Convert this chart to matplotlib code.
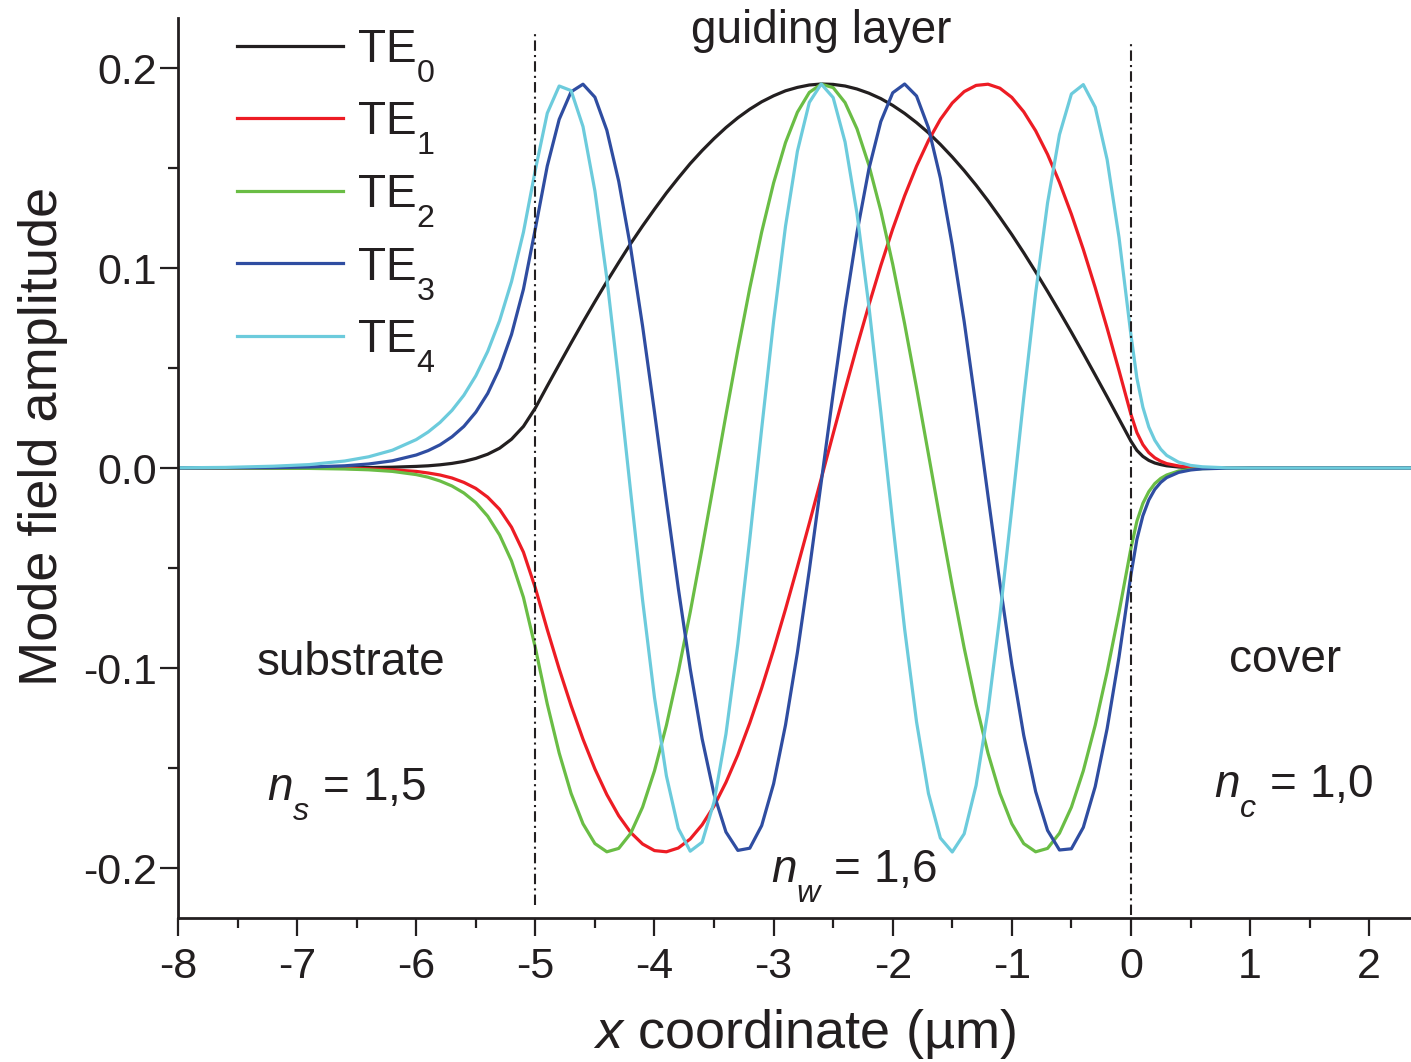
import matplotlib
matplotlib.use("Agg")
import matplotlib.pyplot as plt
from matplotlib.ticker import MultipleLocator, FormatStrFormatter

plt.rcParams["font.family"] = ["Liberation Sans", "DejaVu Sans"]
plt.rcParams["mathtext.fontset"] = "custom"
plt.rcParams["mathtext.rm"] = "Liberation Sans"
plt.rcParams["mathtext.it"] = "Liberation Sans:italic"
plt.rcParams["mathtext.bf"] = "Liberation Sans:bold"
plt.rcParams["axes.unicode_minus"] = False

# deeper subscripts, like the original figure
try:
    from matplotlib import _mathtext
    _mathtext.FontConstantsBase.sub1 = 0.8
    _mathtext.FontConstantsBase.sub2 = 0.9
except Exception:
    pass

INK = "#231f20"

# x positions (um): substrate tail, guiding layer (-5..0), cover tail
x_um = [-8.0, -7.6, -7.2, -6.9, -6.6, -6.4, -6.2, -6.0, -5.9, -5.8, -5.7, -5.6, -5.5, -5.4, -5.3, -5.2, -5.1,
        -5.0, -4.9, -4.8, -4.7, -4.6, -4.5, -4.4, -4.3, -4.2, -4.1,
        -4.0, -3.9, -3.8, -3.7, -3.6, -3.5, -3.4, -3.3, -3.2, -3.1,
        -3.0, -2.9, -2.8, -2.7, -2.6, -2.5, -2.4, -2.3, -2.2, -2.1,
        -2.0, -1.9, -1.8, -1.7, -1.6, -1.5, -1.4, -1.3, -1.2, -1.1,
        -1.0, -0.9, -0.8, -0.7, -0.6, -0.5, -0.4, -0.3, -0.2, -0.1,
        0.0,
        0.05, 0.1, 0.15, 0.2, 0.25, 0.3, 0.4, 0.5, 0.6, 0.8, 1.0, 1.5, 2.4]

te0 = [0.0, 0.0, 0.0, 0.0, 0.0001, 0.0002, 0.0004, 0.0008, 0.0011, 0.0016, 0.0023, 0.0033, 0.0048, 0.0069, 0.0099, 0.0144, 0.0208,
       0.0300, 0.0410, 0.0518, 0.0625, 0.0730, 0.0832, 0.0932, 0.1028, 0.1122, 0.1210,
       0.1294, 0.1375, 0.1450, 0.1522, 0.1587, 0.1647, 0.1702, 0.1751, 0.1794, 0.1831,
       0.1861, 0.1886, 0.1903, 0.1915, 0.1920, 0.1918, 0.1910, 0.1895, 0.1874, 0.1847,
       0.1813, 0.1773, 0.1727, 0.1676, 0.1618, 0.1555, 0.1487, 0.1414, 0.1336, 0.1253,
       0.1167, 0.1076, 0.0981, 0.0883, 0.0782, 0.0679, 0.0573, 0.0465, 0.0356, 0.0245,
       0.0134,
       0.0088, 0.0058, 0.0038, 0.0025, 0.0017, 0.0011, 0.0005, 0.0002, 0.0001, 0.0, 0.0, 0.0, 0.0]

te1 = [0.0, 0.0, 0.0, -0.0001, -0.0002, -0.0004, -0.0009, -0.0017, -0.0025, -0.0035, -0.0050, -0.0072, -0.0102, -0.0146, -0.0207, -0.0296, -0.0421,
       -0.0600, -0.0808, -0.1005, -0.1188, -0.1356, -0.1505, -0.1633, -0.1739, -0.1822, -0.1880,
       -0.1913, -0.1919, -0.1900, -0.1855, -0.1784, -0.1690, -0.1572, -0.1434, -0.1275, -0.1100,
       -0.0909, -0.0706, -0.0494, -0.0276, -0.0053, 0.0171, 0.0392, 0.0608, 0.0815, 0.1012,
       0.1195, 0.1361, 0.1509, 0.1637, 0.1743, 0.1825, 0.1882, 0.1913, 0.1919, 0.1899,
       0.1853, 0.1781, 0.1686, 0.1568, 0.1428, 0.1269, 0.1093, 0.0902, 0.0699, 0.0487,
       0.0268,
       0.0177, 0.0117, 0.0077, 0.0051, 0.0034, 0.0022, 0.0010, 0.0004, 0.0002, 0.0, 0.0, 0.0, 0.0]

te2 = [0.0, 0.0, -0.0001, -0.0002, -0.0005, -0.0009, -0.0017, -0.0033, -0.0046, -0.0065, -0.0090, -0.0125, -0.0173, -0.0241, -0.0335, -0.0465, -0.0647,
       -0.0899, -0.1180, -0.1425, -0.1627, -0.1779, -0.1878, -0.1919, -0.1902, -0.1827, -0.1696,
       -0.1514, -0.1287, -0.1019, -0.0721, -0.0401, -0.0069, 0.0265, 0.0591, 0.0899, 0.1180,
       0.1425, 0.1627, 0.1779, 0.1878, 0.1919, 0.1902, 0.1827, 0.1696, 0.1514, 0.1286,
       0.1019, 0.0721, 0.0401, 0.0069, -0.0265, -0.0591, -0.0900, -0.1181, -0.1426, -0.1627,
       -0.1779, -0.1878, -0.1919, -0.1902, -0.1826, -0.1696, -0.1514, -0.1286, -0.1019, -0.0721,
       -0.0401,
       -0.0266, -0.0177, -0.0118, -0.0078, -0.0052, -0.0035, -0.0015, -0.0007, -0.0003, -0.0001, 0.0, 0.0, 0.0]

te3 = [0.0, 0.0001, 0.0002, 0.0005, 0.0011, 0.0020, 0.0036, 0.0065, 0.0087, 0.0116, 0.0156, 0.0208, 0.0279, 0.0373, 0.0499, 0.0668, 0.0894,
       0.1197, 0.1510, 0.1743, 0.1881, 0.1919, 0.1854, 0.1689, 0.1433, 0.1101, 0.0710,
       0.0280, -0.0165, -0.0601, -0.1004, -0.1354, -0.1631, -0.1820, -0.1912, -0.1901, -0.1788,
       -0.1579, -0.1285, -0.0922, -0.0510, -0.0070, 0.0373, 0.0797, 0.1177, 0.1495, 0.1732,
       0.1876, 0.1920, 0.1860, 0.1701, 0.1450, 0.1113, 0.0732, 0.0304, -0.0140, -0.0577,
       -0.0983, -0.1337, -0.1618, -0.1812, -0.1910, -0.1904, -0.1797, -0.1593, -0.1303, -0.0944,
       -0.0533,
       -0.0357, -0.0239, -0.0160, -0.0107, -0.0072, -0.0048, -0.0022, -0.0010, -0.0004, -0.0001, 0.0, 0.0, 0.0]

te4 = [0.0001, 0.0003, 0.0009, 0.0017, 0.0035, 0.0056, 0.0089, 0.0142, 0.0180, 0.0228, 0.0288, 0.0364, 0.0461, 0.0583, 0.0737, 0.0932, 0.1179,
       0.1491, 0.1774, 0.1910, 0.1887, 0.1707, 0.1385, 0.0949, 0.0433, -0.0119, -0.0660,
       -0.1147, -0.1539, -0.1802, -0.1916, -0.1871, -0.1670, -0.1330, -0.0880, -0.0356, 0.0197,
       0.0733, 0.1209, 0.1584, 0.1828, 0.1920, 0.1852, 0.1630, 0.1273, 0.0809, 0.0279,
       -0.0274, -0.0805, -0.1269, -0.1627, -0.1850, -0.1920, -0.1829, -0.1587, -0.1213, -0.0738,
       -0.0202, 0.0351, 0.0875, 0.1326, 0.1667, 0.1870, 0.1917, 0.1804, 0.1542, 0.1152,
       0.0665,
       0.0449, 0.0304, 0.0205, 0.0139, 0.0094, 0.0063, 0.0029, 0.0013, 0.0006, 0.0001, 0.0, 0.0, 0.0]

modes = [te0, te1, te2, te3, te4]
mode_labels = ["TE$_0$", "TE$_1$", "TE$_2$", "TE$_3$", "TE$_4$"]
mode_colors = ["#231f20", "#ed1c24", "#6abd45", "#2f4da1", "#6ccbdc"]

# layer interfaces (um) and the extent of the dash-dot markers
interfaces = [-5.0, 0.0]
iface_lo = [-0.2185, -0.2235]
iface_hi = [0.2175, 0.214]

fig = plt.figure(figsize=(14.11, 10.62), dpi=100)
ax = fig.add_axes([178 / 1411, 144 / 1062, 1 - 178 / 1411, 900 / 1062])

for ys, lab, col in zip(modes, mode_labels, mode_colors):
    ax.plot(x_um, ys, color=col, lw=2.3, label=lab, solid_joinstyle="round")

for xv, lo, hi in zip(interfaces, iface_lo, iface_hi):
    ax.plot([xv, xv], [lo, hi], color=INK, lw=1.5, linestyle=(0, (5, 2, 1, 2)))

ax.set_xlim(-8, 2.351)
ax.set_ylim(-0.225, 0.225)
for s in ("top", "right"):
    ax.spines[s].set_visible(False)
for s in ("left", "bottom"):
    ax.spines[s].set_linewidth(2.0)
    ax.spines[s].set_color(INK)

ax.xaxis.set_major_locator(MultipleLocator(1))
ax.xaxis.set_minor_locator(MultipleLocator(0.5))
ax.yaxis.set_major_locator(MultipleLocator(0.1))
ax.yaxis.set_minor_locator(MultipleLocator(0.05))
ax.yaxis.set_major_formatter(FormatStrFormatter("%.1f"))
ax.tick_params(which="major", direction="out", length=13, width=1.6, color=INK,
               labelsize=31, labelcolor=INK)
ax.tick_params(which="minor", direction="out", length=7, width=1.6, color=INK)
ax.tick_params(axis="x", pad=8)
ax.tick_params(axis="y", pad=2)

ax.set_xlabel("$x$ coordinate (µm)", fontsize=39, color=INK)
ax.xaxis.set_label_coords(0.508, -0.099)
ax.set_ylabel("Mode field amplitude", fontsize=39, color=INK)
ax.yaxis.set_label_coords(-0.089, 0.535)

fs = 33
ax.text(-2.598, 0.2125, "guiding layer", fontsize=fs, color=INK, ha="center", va="baseline")
ax.text(-6.551, -0.1035, "substrate", fontsize=fs, color=INK, ha="center", va="baseline")
ax.text(-7.254, -0.166, "$n_s$ = 1,5", fontsize=fs, color=INK, ha="left", va="baseline")
ax.text(1.295, -0.1018, "cover", fontsize=fs, color=INK, ha="center", va="baseline")
ax.text(0.694, -0.1643, "$n_c$ = 1,0", fontsize=fs, color=INK, ha="left", va="baseline")
ax.text(-3.020, -0.2068, "$n_w$ = 1,6", fontsize=fs, color=INK, ha="left", va="baseline")

leg = ax.legend(loc="upper left", bbox_to_anchor=(237 / 1411, 1 - 28 / 1062),
                bbox_transform=fig.transFigure, frameon=False, fontsize=fs,
                handlelength=2.31, handletextpad=0.3, labelspacing=0.36,
                borderpad=0, borderaxespad=0)
for t in leg.get_texts():
    t.set_color(INK)

fig.savefig("out.png", dpi=100)
